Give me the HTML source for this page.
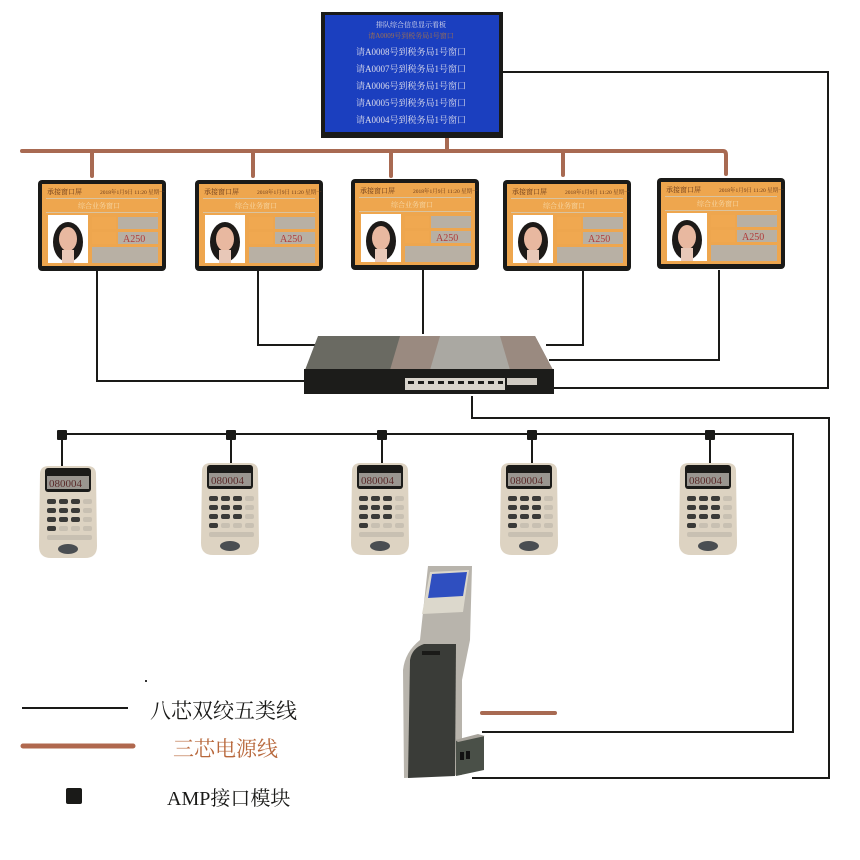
<!DOCTYPE html>
<html><head><meta charset="utf-8"><style>
html,body{margin:0;padding:0;background:#fff;}
svg{display:block;}
text{font-family:"Liberation Serif","Noto Serif CJK SC","Noto Sans CJK SC",serif;}
</style></head><body>
<svg width="860" height="860" viewBox="0 0 860 860" xmlns="http://www.w3.org/2000/svg">
<defs>
<g id="win">
  <rect x="0" y="0" width="128" height="91" rx="4" fill="#1a1a18"/>
  <rect x="4" y="4" width="120" height="82" fill="#eea64e"/>
  <text x="9" y="14" font-size="7" fill="#6a3a1a">承接窗口屏</text>
  <text x="62" y="14" font-size="5.5" fill="#6a3a1a">2018年1月9日 11:20 星期一</text>
  <rect x="8" y="18" width="112" height="1" fill="#d9c3a0"/>
  <text x="40" y="28" font-size="7" fill="#f6d8a8">综合业务窗口</text>
  <rect x="8" y="32" width="112" height="1" fill="#d9c3a0"/>
  <rect x="10" y="35" width="40" height="48" fill="#fff"/>
  <ellipse cx="30" cy="62" rx="15" ry="20" fill="#1d1a18"/>
  <ellipse cx="30" cy="59" rx="9" ry="12" fill="#e8b8a0"/>
  <rect x="24" y="70" width="12" height="13" fill="#e8c8b8"/>
  <rect x="54" y="37" width="24" height="12" fill="#f0a850"/>
  <rect x="80" y="37" width="40" height="12" fill="#b8b0a4"/>
  <rect x="54" y="52" width="24" height="12" fill="#f0a850"/>
  <rect x="80" y="52" width="40" height="12" fill="#b8b0a4"/>
  <text x="85" y="62" font-size="10" fill="#b03a3a" font-family="Liberation Sans,sans-serif">A250</text>
  <rect x="54" y="67" width="66" height="16" fill="#b8b0a4"/>
</g>
<g id="pad">
  <path d="M3 8 Q3 0 12 0 L50 0 Q59 0 59 8 L60 80 Q60 92 48 92 L14 92 Q2 92 2 80 Z" fill="#ddd3c2"/>
  <rect x="8" y="2" width="46" height="24" rx="3" fill="#1b1b19"/>
  <rect x="10" y="10" width="42" height="13" fill="#9a9690"/>
  <text x="12" y="21" font-size="11" fill="#5a2a2a" font-family="Liberation Mono,monospace">080004</text>
  <g fill="#3a3a38">
    <rect x="10" y="33" width="9" height="5" rx="2"/><rect x="22" y="33" width="9" height="5" rx="2"/><rect x="34" y="33" width="9" height="5" rx="2"/>
    <rect x="10" y="42" width="9" height="5" rx="2"/><rect x="22" y="42" width="9" height="5" rx="2"/><rect x="34" y="42" width="9" height="5" rx="2"/>
    <rect x="10" y="51" width="9" height="5" rx="2"/><rect x="22" y="51" width="9" height="5" rx="2"/><rect x="34" y="51" width="9" height="5" rx="2"/>
    <rect x="10" y="60" width="9" height="5" rx="2"/>
  </g>
  <g fill="#c8c0b2">
    <rect x="46" y="33" width="9" height="5" rx="2"/><rect x="46" y="42" width="9" height="5" rx="2"/><rect x="46" y="51" width="9" height="5" rx="2"/>
    <rect x="22" y="60" width="9" height="5" rx="2"/><rect x="34" y="60" width="9" height="5" rx="2"/><rect x="46" y="60" width="9" height="5" rx="2"/>
    <rect x="10" y="69" width="45" height="5" rx="2"/>
  </g>
  <ellipse cx="31" cy="83" rx="10" ry="5" fill="#4a4e52"/>
</g>
</defs>

<!-- power line -->
<g stroke="#a86a52" stroke-width="4" fill="none" stroke-linecap="round">
  <path d="M22 151 L723 151 Q726 151 726 155 L726 174"/>
  <path d="M92 151 V176 M253 151 V176 M391 151 V176 M563 151 V175 M447 137 V151"/>
  <path d="M482 713 H555"/>
</g>

<!-- black network lines -->
<g stroke="#1a1a18" stroke-width="2" fill="none">
  <path d="M502 72 H828 V388 H550"/>
  <path d="M472 396 V418 H829 V778 H472"/>
  <path d="M62 434 H793 V732 H482"/>
  <path d="M97 270 V381 H306"/>
  <path d="M258 270 V345 H318"/>
  <path d="M423 270 V334"/>
  <path d="M583 270 V345 H546"/>
  <path d="M719 270 V360 H549"/>
  <path d="M62 434 V470 M231 434 V466 M382 434 V466 M532 434 V466 M710 434 V466"/>
</g>
<g fill="#1a1a18">
  <rect x="57" y="430" width="10" height="10" rx="1"/>
  <rect x="226" y="430" width="10" height="10" rx="1"/>
  <rect x="377" y="430" width="10" height="10" rx="1"/>
  <rect x="527" y="430" width="10" height="10" rx="1"/>
  <rect x="705" y="430" width="10" height="10" rx="1"/>
</g>

<!-- top screen -->
<rect x="321" y="12" width="182" height="126" fill="#1a1a18"/>
<rect x="325" y="15" width="174" height="117" fill="#1b3fbf"/>
<g font-size="9" fill="#dcdcec" text-anchor="middle">
  <text x="411" y="27" font-size="7">排队综合信息显示看板</text>
  <text x="411" y="38" font-size="7" fill="#a07050">请A0009号到税务局1号窗口</text>
  <text x="411" y="55">请A0008号到税务局1号窗口</text>
  <text x="411" y="72">请A0007号到税务局1号窗口</text>
  <text x="411" y="89">请A0006号到税务局1号窗口</text>
  <text x="411" y="106">请A0005号到税务局1号窗口</text>
  <text x="411" y="123">请A0004号到税务局1号窗口</text>
</g>

<!-- window screens -->
<use href="#win" x="38" y="180"/>
<use href="#win" x="195" y="180"/>
<use href="#win" x="351" y="179"/>
<use href="#win" x="503" y="180"/>
<use href="#win" x="657" y="178"/>

<!-- switch -->
<path d="M318 336 L535 336 L553 370 L305 370 Z" fill="#6a6a62"/>
<path d="M400 336 L535 336 L553 370 L390 370 Z" fill="#9a8a80"/>
<path d="M440 336 L500 336 L510 370 L430 370 Z" fill="#aaa8a2"/>
<rect x="304" y="369" width="250" height="25" fill="#1c1c1a"/>
<rect x="405" y="378" width="100" height="12" fill="#d8d4cc"/>
<g fill="#1c1c1a">
  <rect x="408" y="381" width="6" height="3"/><rect x="418" y="381" width="6" height="3"/><rect x="428" y="381" width="6" height="3"/><rect x="438" y="381" width="6" height="3"/><rect x="448" y="381" width="6" height="3"/>
  <rect x="458" y="381" width="6" height="3"/><rect x="468" y="381" width="6" height="3"/><rect x="478" y="381" width="6" height="3"/><rect x="488" y="381" width="6" height="3"/><rect x="498" y="381" width="5" height="3"/>
</g>
<rect x="507" y="378" width="30" height="7" fill="#cfcac2"/>

<!-- keypads -->
<use href="#pad" x="37" y="466"/>
<use href="#pad" x="199" y="463"/>
<use href="#pad" x="349" y="463"/>
<use href="#pad" x="498" y="463"/>
<use href="#pad" x="677" y="463"/>

<!-- kiosk -->
<path d="M428 566 L472 566 L470 640 Q466 660 462 680 L462 775 L404 778 L403 670 Q405 652 420 640 Z" fill="#b8b4ac"/>
<path d="M430 572 L469 570 L463 612 L422 614 Z" fill="#dcd8cc"/>
<path d="M432 574 L467 572 L463 596 L428 598 Z" fill="#2f4fc0"/>
<path d="M410 660 Q412 648 424 644 L456 644 L455 776 L408 778 Z" fill="#3a3c38"/>
<rect x="422" y="651" width="18" height="4" fill="#1a1a18"/>
<path d="M456 740 L484 736 L484 770 L456 776 Z" fill="#4a5048"/>
<path d="M455 740 L478 734 L485 736 L458 742 Z" fill="#a8a49c"/>
<rect x="460" y="752" width="4" height="8" fill="#111"/><rect x="466" y="751" width="4" height="8" fill="#111"/>

<!-- legend -->
<rect x="145" y="680" width="2" height="2" fill="#333"/>
<line x1="22" y1="708" x2="128" y2="708" stroke="#1a1a18" stroke-width="2"/>
<text x="150" y="718" font-size="21" fill="#1a1a18">八芯双绞五类线</text>
<line x1="23" y1="746" x2="133" y2="746" stroke="#b0684e" stroke-width="5" stroke-linecap="round"/>
<text x="173" y="756" font-size="21" fill="#b8683c">三芯电源线</text>
<rect x="66" y="788" width="16" height="16" rx="2" fill="#1a1a18"/>
<text x="167" y="805" font-size="20" fill="#1a1a18">AMP接口模块</text>
</svg>
</body></html>
